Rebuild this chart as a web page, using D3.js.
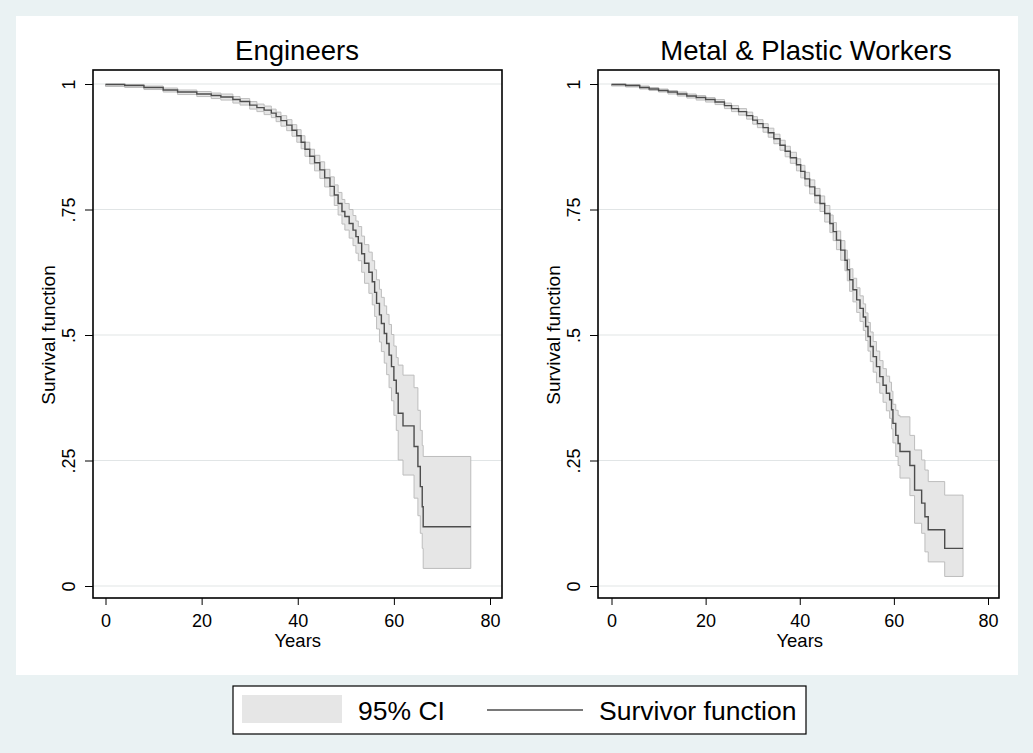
<!DOCTYPE html>
<html lang="en">
<head>
    <meta charset="UTF-8">
    <title>Survival by occupation</title>
    <script src="https://d3js.org/d3.v7.min.js"></script>
    <style>
        body { margin: 0; background: #eaf2f3; }
        svg text { font-family: "Liberation Sans", Arial, sans-serif; fill: #000; }
        .tick line { stroke: #000; }
    </style>
</head>
<body>
<svg id="chart"></svg>
<script>
    const width = 1033, height = 753;

    // Engineers: step times (years), survivor estimate, 95% CI
    const engTime = [0, 4, 8, 12, 15, 19, 22, 24, 26.5, 28, 30, 31.5, 33, 34.5, 35.5, 36.5, 37.7, 38.8, 39.8, 40.7,
        41.5, 42.5, 43.5, 44.6, 45.6, 46.7, 47.6, 48.4, 49.2, 49.8, 50.7, 51.5, 52.1, 52.6, 53.3, 53.9, 54.8, 55.5, 56.0, 56.4,
        57.0, 57.4, 58.0, 58.5, 59.0, 59.5, 60.0, 60.5, 60.9, 61.9, 64.2, 65.0, 65.5, 65.9, 66.1];
    const engSurv = [0.999, 0.997, 0.993, 0.988, 0.984, 0.980, 0.977, 0.974, 0.969, 0.965, 0.958, 0.953, 0.948, 0.942, 0.935, 0.927, 0.918, 0.908, 0.897, 0.884,
        0.870, 0.856, 0.843, 0.829, 0.813, 0.796, 0.779, 0.762, 0.746, 0.736, 0.722, 0.709, 0.696, 0.683, 0.662, 0.643, 0.625, 0.606, 0.585, 0.563,
        0.540, 0.523, 0.503, 0.483, 0.460, 0.437, 0.410, 0.384, 0.344, 0.319, 0.278, 0.238, 0.198, 0.158, 0.118];
    const engLo = [0.995, 0.993, 0.989, 0.984, 0.979, 0.975, 0.971, 0.968, 0.962, 0.958, 0.950, 0.945, 0.939, 0.933, 0.925, 0.916, 0.907, 0.896, 0.884, 0.871,
        0.856, 0.841, 0.827, 0.812, 0.795, 0.777, 0.758, 0.739, 0.721, 0.709, 0.693, 0.678, 0.663, 0.648, 0.625, 0.603, 0.583, 0.560, 0.537, 0.512,
        0.486, 0.467, 0.444, 0.421, 0.395, 0.369, 0.340, 0.310, 0.251, 0.221, 0.175, 0.140, 0.105, 0.075, 0.035];
    const engHi = [1.000, 0.999, 0.996, 0.992, 0.988, 0.985, 0.982, 0.980, 0.975, 0.971, 0.965, 0.960, 0.956, 0.950, 0.944, 0.937, 0.929, 0.919, 0.909, 0.897,
        0.884, 0.870, 0.858, 0.845, 0.830, 0.815, 0.799, 0.784, 0.770, 0.762, 0.750, 0.738, 0.727, 0.716, 0.697, 0.680, 0.665, 0.648, 0.630, 0.610,
        0.591, 0.575, 0.558, 0.541, 0.521, 0.501, 0.478, 0.455, 0.440, 0.420, 0.395, 0.350, 0.310, 0.280, 0.258];
    const engEnd = 76;

    // Metal & Plastic Workers
    const metTime = [0, 3, 6, 8, 10, 12, 14, 16, 18, 20, 22, 24, 25.5, 27, 28.7, 30, 31, 32.2, 33.3, 34.5,
        35.8, 36.9, 38.0, 39.3, 40.2, 41.1, 42.1, 43.2, 44.3, 45.3, 46.4, 47.1, 47.8, 48.7, 49.6, 50.1, 50.6, 51.3, 52.1, 52.8,
        53.5, 54.0, 54.5, 55.0, 55.6, 56.3, 57.0, 57.7, 58.4, 59.1, 59.5, 59.8, 60.4, 60.9, 61.3, 63.4, 64.4, 65.9, 66.6, 67.3, 70.8];
    const metSurv = [0.999, 0.997, 0.993, 0.990, 0.987, 0.984, 0.980, 0.976, 0.973, 0.969, 0.964, 0.957, 0.951, 0.945, 0.937, 0.928, 0.921, 0.913, 0.903, 0.891,
        0.878, 0.866, 0.853, 0.839, 0.826, 0.811, 0.795, 0.778, 0.762, 0.742, 0.722, 0.706, 0.689, 0.669, 0.649, 0.630, 0.610, 0.590, 0.570, 0.553,
        0.536, 0.517, 0.497, 0.477, 0.457, 0.437, 0.417, 0.400, 0.384, 0.371, 0.351, 0.324, 0.300, 0.284, 0.268, 0.240, 0.191, 0.165, 0.138, 0.112, 0.075];
    const metLo = [0.996, 0.994, 0.990, 0.987, 0.984, 0.980, 0.976, 0.972, 0.968, 0.964, 0.959, 0.951, 0.945, 0.938, 0.930, 0.920, 0.913, 0.904, 0.894, 0.881,
        0.868, 0.855, 0.842, 0.827, 0.813, 0.797, 0.781, 0.763, 0.746, 0.725, 0.704, 0.688, 0.670, 0.649, 0.628, 0.608, 0.587, 0.566, 0.545, 0.527,
        0.509, 0.489, 0.468, 0.447, 0.426, 0.405, 0.384, 0.366, 0.349, 0.334, 0.313, 0.285, 0.258, 0.240, 0.215, 0.180, 0.125, 0.105, 0.068, 0.048, 0.019];
    const metHi = [1.000, 0.999, 0.996, 0.993, 0.990, 0.987, 0.984, 0.980, 0.977, 0.973, 0.969, 0.962, 0.957, 0.951, 0.944, 0.935, 0.929, 0.921, 0.912, 0.900,
        0.888, 0.876, 0.864, 0.851, 0.838, 0.824, 0.809, 0.792, 0.777, 0.758, 0.739, 0.724, 0.707, 0.688, 0.669, 0.651, 0.632, 0.613, 0.594, 0.578,
        0.562, 0.544, 0.525, 0.506, 0.487, 0.468, 0.449, 0.433, 0.418, 0.406, 0.388, 0.362, 0.350, 0.340, 0.337, 0.300, 0.271, 0.251, 0.231, 0.208, 0.181];
    const metEnd = 74.7;

    const xTicks = [0, 20, 40, 60, 80];
    const yTicks = [0, 0.25, 0.5, 0.75, 1];
    const yTickLabels = ["0", ".25", ".5", ".75", "1"];

    const panels = [
        {title: "Engineers", time: engTime, surv: engSurv, lo: engLo, hi: engHi, end: engEnd,
            left: 93, right: 502, x0: 105.5, x80: 490, titleX: 297},
        {title: "Metal & Plastic Workers", time: metTime, surv: metSurv, lo: metLo, hi: metHi, end: metEnd,
            left: 598, right: 999, x0: 611.5, x80: 988, titleX: 806}
    ];
    const boxTop = 70, boxBottom = 598;

    const svg = d3.select("#chart").attr("width", width).attr("height", height);

    svg.append("rect").attr("x", 0).attr("y", 0).attr("width", width).attr("height", height).attr("fill", "#eaf2f3");
    svg.append("rect").attr("x", 16).attr("y", 16).attr("width", 1002).attr("height", 659).attr("fill", "#fff");

    const y = d3.scaleLinear().domain([0, 1]).range([586, 84]);

    panels.forEach(function (p) {
        const x = d3.scaleLinear().domain([0, 80]).range([p.x0, p.x80]);
        const g = svg.append("g");

        // step data, last value held to the end of follow-up
        const rows = p.time.map(function (t, i) {
            return {t: t, s: p.surv[i], lo: p.lo[i], hi: p.hi[i]};
        });
        const last = rows[rows.length - 1];
        rows.push({t: p.end, s: last.s, lo: last.lo, hi: last.hi});

        // gridlines
        g.selectAll(".grid").data(yTicks).enter().append("line")
            .attr("x1", p.left).attr("x2", p.right)
            .attr("y1", d => y(d)).attr("y2", d => y(d))
            .attr("stroke", "#e1e5e6").attr("stroke-width", 1.2);

        const area = d3.area().curve(d3.curveStepAfter)
            .x(d => x(d.t)).y0(d => y(d.lo)).y1(d => y(d.hi));
        g.append("path").datum(rows).attr("d", area)
            .attr("fill", "#e6e6e6").attr("stroke", "#bdbdbd").attr("stroke-width", 1);

        const line = d3.line().curve(d3.curveStepAfter)
            .x(d => x(d.t)).y(d => y(d.s));
        g.append("path").datum(rows).attr("d", line)
            .attr("fill", "none").attr("stroke", "#4d4d4d").attr("stroke-width", 1.4);

        // plot box
        g.append("rect").attr("x", p.left).attr("y", boxTop)
            .attr("width", p.right - p.left).attr("height", boxBottom - boxTop)
            .attr("fill", "none").attr("stroke", "#000").attr("stroke-width", 1.6);

        // x axis
        const xAxis = g.append("g").attr("transform", `translate(0,${boxBottom})`)
            .call(d3.axisBottom(x).tickValues(xTicks).tickSize(7).tickPadding(6));
        xAxis.select(".domain").remove();
        xAxis.selectAll("text").attr("font-size", 18).attr("dy", "0.9em");

        // y axis
        const yAxis = g.append("g").attr("transform", `translate(${p.left},0)`)
            .call(d3.axisLeft(y).tickValues(yTicks).tickSize(8)
                .tickFormat((d, i) => yTickLabels[i]));
        yAxis.select(".domain").remove();
        yAxis.selectAll("text")
            .attr("font-size", 18)
            .attr("text-anchor", "middle")
            .attr("x", 0).attr("dy", 0)
            .attr("transform", "translate(-18,0) rotate(-90)");

        g.append("text").attr("x", (p.x0 + p.x80) / 2).attr("y", 647)
            .attr("text-anchor", "middle").attr("font-size", 18.5).text("Years");

        g.append("text")
            .attr("transform", `translate(${p.left - 38},${y(0.5)}) rotate(-90)`)
            .attr("text-anchor", "middle").attr("font-size", 19).text("Survival function");

        g.append("text").attr("x", p.titleX).attr("y", 60)
            .attr("text-anchor", "middle").attr("font-size", 27.5).text(p.title);
    });

    // legend
    const legend = svg.append("g");
    legend.append("rect").attr("x", 233).attr("y", 686).attr("width", 573).attr("height", 48)
        .attr("fill", "#fff").attr("stroke", "#000").attr("stroke-width", 1.2);
    legend.append("rect").attr("x", 242).attr("y", 695).attr("width", 100).attr("height", 28)
        .attr("fill", "#e6e6e6");
    legend.append("text").attr("x", 358).attr("y", 720).attr("font-size", 26.5).text("95% CI");
    legend.append("line").attr("x1", 487).attr("x2", 583).attr("y1", 710).attr("y2", 710)
        .attr("stroke", "#4d4d4d").attr("stroke-width", 1.5);
    legend.append("text").attr("x", 599).attr("y", 720).attr("font-size", 26.5).text("Survivor function");
</script>
</body>
</html>
